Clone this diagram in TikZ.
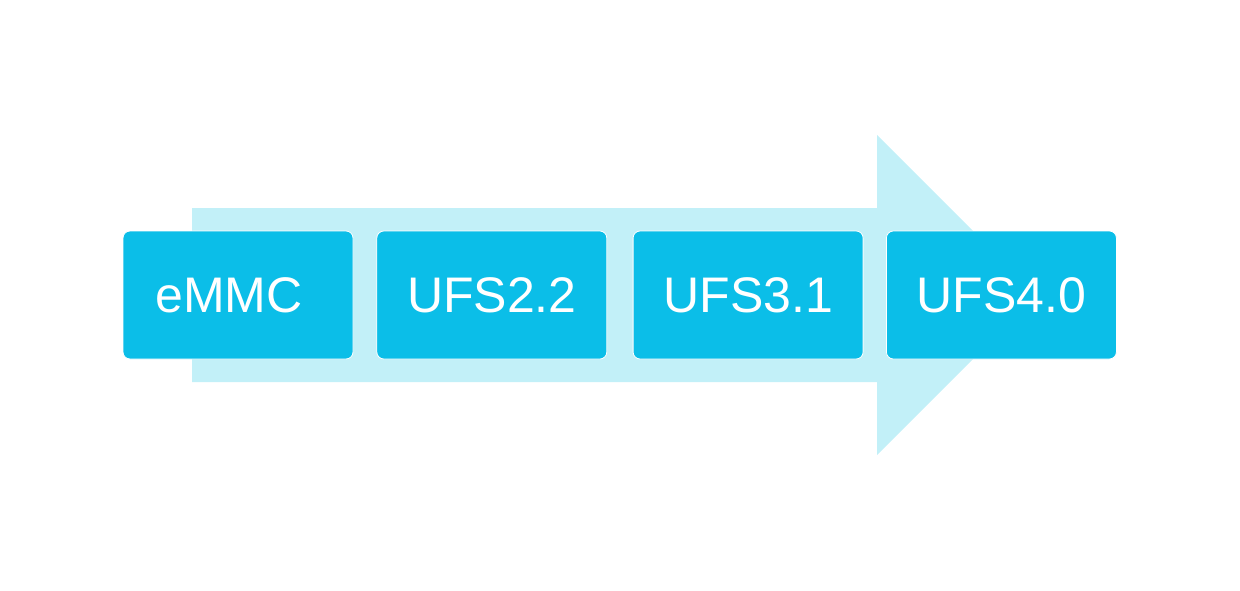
\documentclass[tikz,border=0pt]{standalone}
\usepackage{fontspec}
\setmainfont{Liberation Sans}
\usetikzlibrary{positioning}

\definecolor{stepblue}{RGB}{11,190,232}
\definecolor{arrowcyan}{RGB}{194,240,248}

\begin{document}
\begin{tikzpicture}[x=1pt, y=-1pt, node distance=25pt,
                    gen node/.style={rectangle, rounded corners=7pt, draw=white, line width=0.8pt,
                                     fill=stepblue, text=white, minimum width=230pt, minimum height=128pt,
                                     inner sep=0pt, font=\fontsize{50}{60}\selectfont}]
  \useasboundingbox (0,0) rectangle (1240,591);
  % big arrow behind the boxes
  \fill[arrowcyan] (192,208) -- (877,208) -- (877,135) -- (1037,295)
                   -- (877,455) -- (877,382) -- (192,382) -- cycle;
  \node[gen node] (emmc) at (238,295) {eMMC\kern18pt};
  \node[gen node] (ufs22) [right=23pt of emmc] {UFS2.2};
  \node[gen node] (ufs31) [right=25.5pt of ufs22] {UFS3.1};
  \node[gen node] (ufs40) [right=22.5pt of ufs31] {UFS4.0};
\end{tikzpicture}
\end{document}
